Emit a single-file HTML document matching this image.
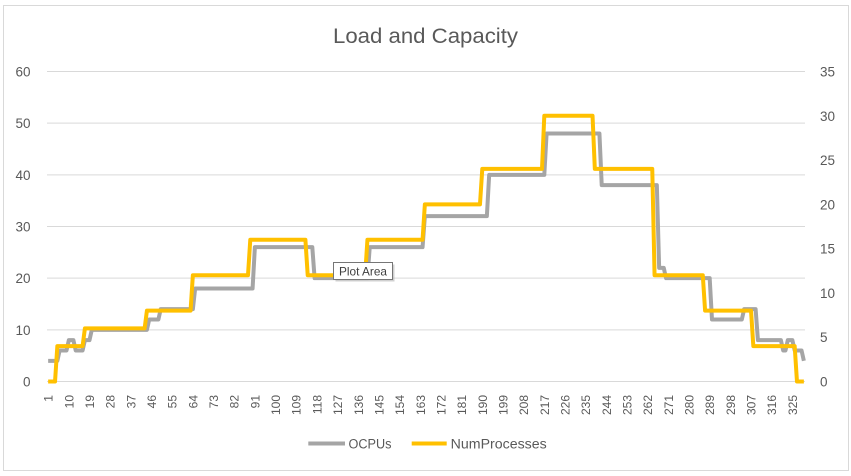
<!DOCTYPE html>
<html><head><meta charset="utf-8"><style>
html,body{margin:0;padding:0;background:#fff;}
svg{display:block;}
text{font-family:"Liberation Sans",Arial,sans-serif;fill:#595959;}
</style></head><body>
<svg width="851" height="476" viewBox="0 0 851 476" xmlns="http://www.w3.org/2000/svg">
<rect x="0" y="0" width="851" height="476" fill="#fff"/>
<rect x="3.5" y="5.5" width="845" height="465" fill="#fff" stroke="#D9D9D9" stroke-width="1"/>
<text x="425.5" y="43" font-size="21" text-anchor="middle" textLength="185" lengthAdjust="spacingAndGlyphs">Load and Capacity</text>
<g stroke="#D9D9D9" stroke-width="1">
<line x1="47" y1="71.5" x2="805" y2="71.5"/>
<line x1="47" y1="123.17" x2="805" y2="123.17"/>
<line x1="47" y1="174.83" x2="805" y2="174.83"/>
<line x1="47" y1="226.5" x2="805" y2="226.5"/>
<line x1="47" y1="278.17" x2="805" y2="278.17"/>
<line x1="47" y1="329.83" x2="805" y2="329.83"/>
<line x1="47" y1="381.5" x2="805" y2="381.5"/>
</g>
<g font-size="13.5" text-anchor="end">
<text x="30.5" y="76.5">60</text>
<text x="30.5" y="128.2">50</text>
<text x="30.5" y="179.8">40</text>
<text x="30.5" y="231.5">30</text>
<text x="30.5" y="283.2">20</text>
<text x="30.5" y="334.8">10</text>
<text x="30.5" y="386.5">0</text>
</g>
<g font-size="13.5">
<text x="820" y="76.5">35</text>
<text x="820" y="120.8">30</text>
<text x="820" y="165.1">25</text>
<text x="820" y="209.4">20</text>
<text x="820" y="253.6">15</text>
<text x="820" y="297.9">10</text>
<text x="820" y="342.2">5</text>
<text x="820" y="386.5">0</text>
</g>
<g font-size="12" text-anchor="end">
<text transform="translate(52.6,395) rotate(-90)">1</text>
<text transform="translate(73.3,395) rotate(-90)">10</text>
<text transform="translate(94.0,395) rotate(-90)">19</text>
<text transform="translate(114.7,395) rotate(-90)">28</text>
<text transform="translate(135.3,395) rotate(-90)">37</text>
<text transform="translate(156.0,395) rotate(-90)">46</text>
<text transform="translate(176.7,395) rotate(-90)">55</text>
<text transform="translate(197.4,395) rotate(-90)">64</text>
<text transform="translate(218.0,395) rotate(-90)">73</text>
<text transform="translate(238.7,395) rotate(-90)">82</text>
<text transform="translate(259.4,395) rotate(-90)">91</text>
<text transform="translate(280.1,395) rotate(-90)">100</text>
<text transform="translate(300.7,395) rotate(-90)">109</text>
<text transform="translate(321.4,395) rotate(-90)">118</text>
<text transform="translate(342.1,395) rotate(-90)">127</text>
<text transform="translate(362.8,395) rotate(-90)">136</text>
<text transform="translate(383.4,395) rotate(-90)">145</text>
<text transform="translate(404.1,395) rotate(-90)">154</text>
<text transform="translate(424.8,395) rotate(-90)">163</text>
<text transform="translate(445.4,395) rotate(-90)">172</text>
<text transform="translate(466.1,395) rotate(-90)">181</text>
<text transform="translate(486.8,395) rotate(-90)">190</text>
<text transform="translate(507.5,395) rotate(-90)">199</text>
<text transform="translate(528.1,395) rotate(-90)">208</text>
<text transform="translate(548.8,395) rotate(-90)">217</text>
<text transform="translate(569.5,395) rotate(-90)">226</text>
<text transform="translate(590.2,395) rotate(-90)">235</text>
<text transform="translate(610.8,395) rotate(-90)">244</text>
<text transform="translate(631.5,395) rotate(-90)">253</text>
<text transform="translate(652.2,395) rotate(-90)">262</text>
<text transform="translate(672.9,395) rotate(-90)">271</text>
<text transform="translate(693.5,395) rotate(-90)">280</text>
<text transform="translate(714.2,395) rotate(-90)">289</text>
<text transform="translate(734.9,395) rotate(-90)">298</text>
<text transform="translate(755.6,395) rotate(-90)">307</text>
<text transform="translate(776.2,395) rotate(-90)">316</text>
<text transform="translate(796.9,395) rotate(-90)">325</text>
</g>
<polyline fill="none" stroke="#A5A5A5" stroke-width="4" stroke-linejoin="round" points="48.15,360.83 57.34,360.83 59.63,350.5 66.52,350.5 68.82,340.17 73.41,340.17 75.71,350.5 82.60,350.5 84.90,340.17 89.49,340.17 91.79,329.83 146.92,329.83 149.22,319.5 158.40,319.5 160.70,309.17 192.86,309.17 195.16,288.5 252.58,288.5 254.88,247.17 312.30,247.17 314.60,278.17 367.43,278.17 369.73,247.17 422.56,247.17 424.86,216.17 486.87,216.17 489.17,174.83 544.30,174.83 546.60,133.5 599.43,133.5 601.72,185.17 656.85,185.17 659.15,267.83 663.74,267.83 666.04,278.17 709.68,278.17 711.98,319.5 741.84,319.5 744.14,309.17 755.62,309.17 757.92,340.17 780.89,340.17 783.19,350.5 785.48,350.5 787.78,340.17 792.38,340.17 794.67,350.5 801.56,350.5 803.86,360.83"/>
<polyline fill="none" stroke="#FFC000" stroke-width="4" stroke-linejoin="round" points="48.15,381.5 55.04,381.5 57.34,346.07 82.60,346.07 84.90,328.36 144.62,328.36 146.92,310.64 190.56,310.64 192.86,275.21 247.99,275.21 250.28,239.79 305.41,239.79 307.71,275.21 365.13,275.21 367.43,239.79 422.56,239.79 424.86,204.36 479.98,204.36 482.28,168.93 542.00,168.93 544.30,115.79 592.54,115.79 594.83,168.93 652.26,168.93 654.56,275.21 702.79,275.21 705.09,310.64 751.03,310.64 753.33,346.07 794.67,346.07 796.97,381.5 803.86,381.5"/>
<line x1="308.3" y1="443.5" x2="345" y2="443.5" stroke="#A5A5A5" stroke-width="4"/>
<text x="348.5" y="448.3" font-size="13.5" textLength="43" lengthAdjust="spacingAndGlyphs">OCPUs</text>
<line x1="411.7" y1="443.5" x2="446.7" y2="443.5" stroke="#FFC000" stroke-width="4"/>
<text x="450.7" y="448.3" font-size="13.5" textLength="96" lengthAdjust="spacingAndGlyphs">NumProcesses</text>
<rect x="335.5" y="264.5" width="59" height="17" fill="#B0B0B0" opacity="0.6"/>
<rect x="333.5" y="262.5" width="59" height="17" fill="#fff" stroke="#767676" stroke-width="1"/>
<text x="339" y="275.5" font-size="12" style="fill:#404040" textLength="48" lengthAdjust="spacingAndGlyphs">Plot Area</text>
</svg>
</body></html>
